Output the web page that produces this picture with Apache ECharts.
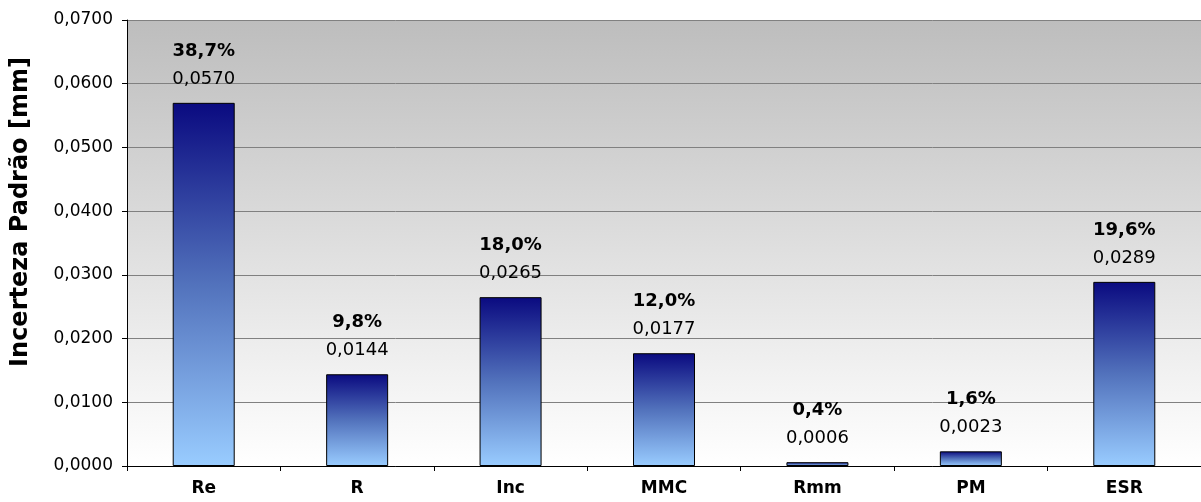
<!DOCTYPE html>
<html><head><meta charset="utf-8">
<script src="https://cdn.jsdelivr.net/npm/echarts@6/dist/echarts.min.js"></script>
<style>html,body{margin:0;padding:0;background:#fff}#c{width:1201px;height:502px}</style>
</head><body><div id="c"></div>
<script>
const categories = ['Re','R','Inc','MMC','Rmm','PM','ESR'];
const values = [0.0570, 0.0144, 0.0265, 0.0177, 0.0006, 0.0023, 0.0289];
const percents = ['38,7%','9,8%','18,0%','12,0%','0,4%','1,6%','19,6%'];
const yTicks = {min:0, max:0.07, interval:0.01};

const fmt = v => v.toFixed(4).replace('.', ',');
const chart = echarts.init(document.getElementById('c'));
chart.setOption({
  animation:false,
  grid:{left:127,right:0,top:20,bottom:36,show:true,borderWidth:0,containLabel:false,outerBoundsMode:'none',
    backgroundColor:new echarts.graphic.LinearGradient(0,0,0,1,[{offset:0,color:'#bdbdbd'},{offset:1,color:'#ffffff'}])},
  xAxis:{type:'category',data:categories,
    axisLine:{lineStyle:{color:'#000',width:1}},
    axisTick:{show:true,length:5,lineStyle:{color:'#000'}},
    axisLabel:{fontFamily:'DejaVu Sans',fontWeight:'bold',fontSize:17,color:'#000',margin:14}},
  yAxis:{type:'value',min:yTicks.min,max:yTicks.max,interval:yTicks.interval,
    name:'Incerteza Padrão [mm]',nameLocation:'middle',nameGap:94,nameRotate:90,
    nameTextStyle:{fontFamily:'DejaVu Sans',fontWeight:'bold',fontSize:24,color:'#000',padding:[0,0,0,62]},
    axisLine:{show:true,lineStyle:{color:'#000',width:1}},
    axisTick:{show:true,length:5,lineStyle:{color:'#000'}},
    axisLabel:{formatter:v=>fmt(v),fontFamily:'DejaVu Sans',fontSize:17,color:'#000',margin:14},
    splitLine:{show:true,lineStyle:{color:'#808080',width:1}}},
  series:[{type:'bar',data:values,barWidth:62,
    itemStyle:{borderColor:'#000',borderWidth:1,
      color:new echarts.graphic.LinearGradient(0,0,0,1,[{offset:0,color:'#0a0a80'},{offset:0.5,color:'#5272bc'},{offset:1,color:'#99ccff'}])},
    label:{show:true,position:'top',distance:13,
      formatter:p=>'{p|'+percents[p.dataIndex]+'}\n{v|'+fmt(p.value)+'}',
      rich:{p:{fontFamily:'DejaVu Sans',fontWeight:'bold',fontSize:18,color:'#000',lineHeight:34},
            v:{fontFamily:'DejaVu Sans',fontSize:18,color:'#000',lineHeight:22}}}}]
});
</script></body></html>
